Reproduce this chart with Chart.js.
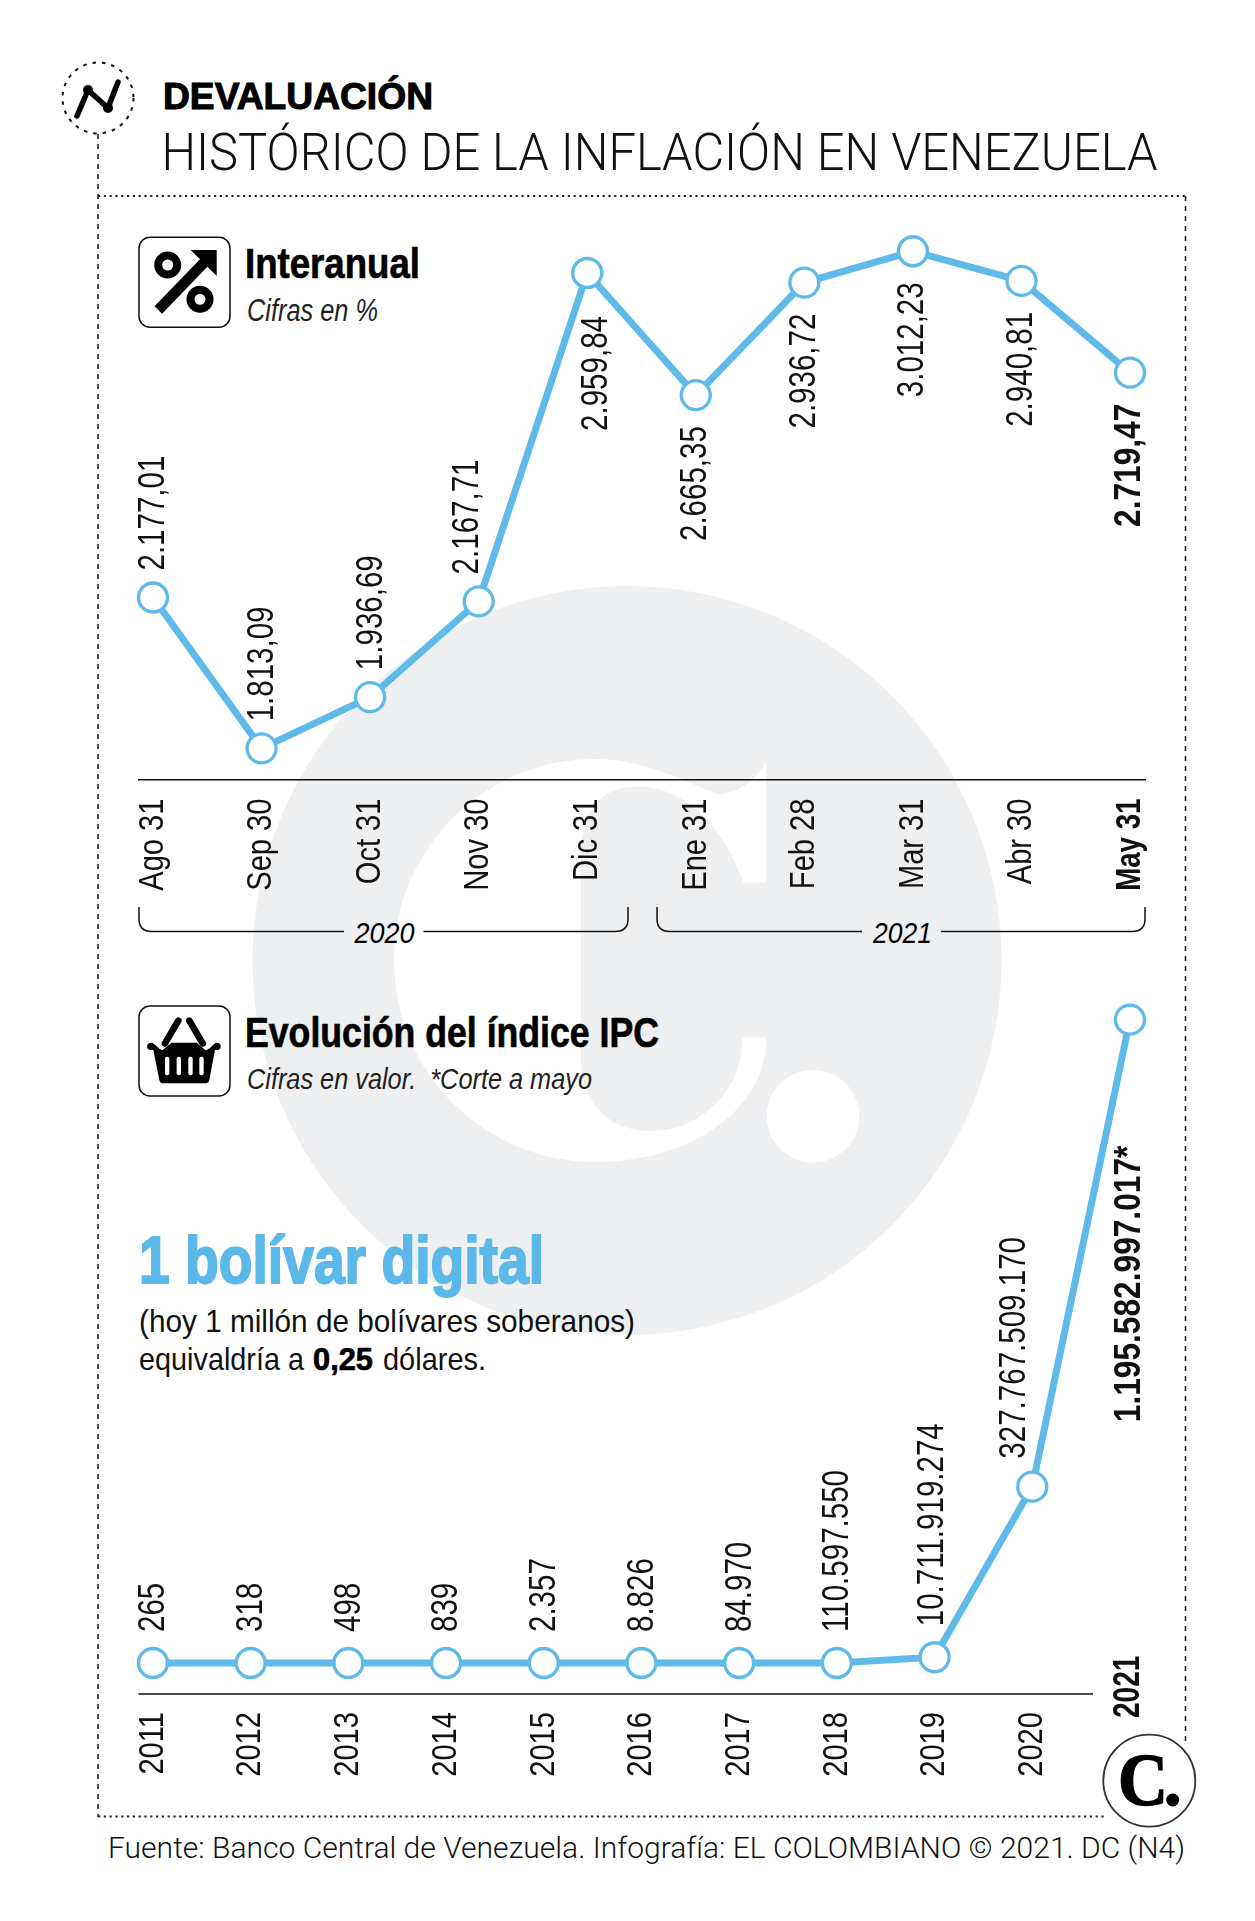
<!DOCTYPE html>
<html lang="es"><head><meta charset="utf-8">
<script src="https://cdn.jsdelivr.net/npm/chart.js@4"></script>
<style>
html,body{margin:0;padding:0;background:#fff;width:1255px;height:1921px;overflow:hidden}
#art,canvas{position:absolute;left:0}
#art{top:0}
#c1{top:180px}
#c2{top:1000px}
text{white-space:pre}
.n{font-family:"Liberation Sans",sans-serif}
.b{font-weight:700}
.i{font-style:italic}
.l{font-family:Roboto,"Liberation Sans",sans-serif;font-weight:300}
</style></head><body>
<svg id="art" width="1255" height="1921" viewBox="0 0 1255 1921">
  <!-- watermark -->
  <circle cx="627" cy="960.5" r="374.5" fill="#eeeff1"/>
  <g transform="translate(240,580) scale(.4974)" fill="#fff">
    <path d="M1058 365L1058 608L1012 608C970 490 890 415 800 415C735 415 685 450 685 560L685 960C685 1060 750 1108 825 1108C925 1108 1010 1030 1010 920L1058 920C1058 1070 900 1170 715 1170C490 1170 310 990 310 765C310 540 490 360 715 360C810 360 880 400 960 430C1000 432 1040 400 1058 365Z"/>
    <circle cx="1152" cy="1078" r="93"/>
  </g>
  <!-- frame -->
  <g fill="none" stroke="#222">
    <path d="M98 134V1817M1185.5 196V1745" stroke-width="1.6" stroke-dasharray="5 5"/>
    <path d="M98 196H1185M98 1816.5H1105" stroke-width="2.2" stroke-dasharray="2.2 3.6"/>
  </g>
  <!-- top-left badge -->
  <circle cx="98" cy="98" r="35.5" fill="#fff" stroke="#111" stroke-width="2" stroke-dasharray="3.5 6"/>
  <path d="M77 116L88 90L108 108L118 82" fill="none" stroke="#000" stroke-width="5.5" stroke-linecap="round" stroke-linejoin="round"/>
  <circle cx="88" cy="90" r="5"/><circle cx="108" cy="108" r="5"/>
  <text x="163" y="109" class="b" font-family="Liberation Sans" font-size="36" textLength="270" lengthAdjust="spacingAndGlyphs" stroke="#000" stroke-width="1">DEVALUACIÓN</text>
  <text x="161.5" y="170" class="l" font-size="52" textLength="996" lengthAdjust="spacingAndGlyphs" fill="#111">HISTÓRICO DE LA INFLACIÓN EN VENEZUELA</text>

  <!-- percent icon -->
  <rect x="139" y="237.3" width="91" height="90" rx="11" fill="#fff" stroke="#111" stroke-width="1.5"/>
  <circle cx="167.7" cy="265" r="9.5" fill="none" stroke="#000" stroke-width="8"/>
  <circle cx="200" cy="299.3" r="9.5" fill="none" stroke="#000" stroke-width="8"/>
  <path d="M158.3 310L205 261.7" stroke="#000" stroke-width="10.5"/>
  <path d="M190.7 250H216.7V276Z"/>
  <text x="245" y="278" class="n b" font-size="43" textLength="175" lengthAdjust="spacingAndGlyphs" stroke="#000" stroke-width=".7">Interanual</text>
  <text x="247" y="321" class="n i" font-size="31" textLength="131" lengthAdjust="spacingAndGlyphs" fill="#222">Cifras en %</text>

  <!-- year brackets -->
  <g fill="none" stroke="#111" stroke-width="1.5">
    <path d="M139 907V919Q139 931.5 152 931.5H344M423.5 931.5H615Q628 931.5 628 919V907"/>
    <path d="M657 907V919Q657 931.5 670 931.5H862M941 931.5H1132Q1145 931.5 1145 919V907"/>
  </g>
  <text x="354.5" y="942.5" class="n i" font-size="30" textLength="60" lengthAdjust="spacingAndGlyphs">2020</text>
  <text x="873" y="942.5" class="n i" font-size="30" textLength="59" lengthAdjust="spacingAndGlyphs">2021</text>

  <!-- basket icon -->
  <rect x="139" y="1006" width="91" height="90" rx="11" fill="#fff" stroke="#111" stroke-width="1.5"/>
  <g transform="translate(130,1000) scale(.3333)">
    <path d="M145 62L105 130M178 62L218 130" stroke="#000" stroke-width="20" stroke-linecap="round" fill="none"/>
    <path d="M125 128H200L226 150C240 150 250 128 262 128C276 128 276 150 262 150L255 150L238 240Q236 250 225 250H100Q90 250 88 240L70 150L62 150C48 150 48 128 62 128C76 128 86 150 98 150Z"/>
    <g fill="#fff"><rect x="105" y="170" width="13" height="56" rx="6"/><rect x="140" y="170" width="13" height="56" rx="6"/><rect x="175" y="170" width="13" height="56" rx="6"/><rect x="208" y="170" width="13" height="56" rx="6"/></g>
  </g>
  <text x="245" y="1047" class="n b" font-size="42" textLength="414" lengthAdjust="spacingAndGlyphs" stroke="#000" stroke-width=".7">Evolución del índice IPC</text>
  <text x="247" y="1089" class="n i" font-size="30" textLength="345" lengthAdjust="spacingAndGlyphs" fill="#222">Cifras en valor.  *Corte a mayo</text>

  <!-- note -->
  <text x="139" y="1283" class="n b" font-size="66" textLength="405" lengthAdjust="spacingAndGlyphs" fill="#5cb8e8" stroke="#5cb8e8" stroke-width="2">1 bolívar digital</text>
  <text x="139" y="1332" class="n" font-size="32" textLength="496" lengthAdjust="spacingAndGlyphs" fill="#111">(hoy 1 millón de bolívares soberanos)</text>
  <text x="139" y="1370" class="n" font-size="32" textLength="165" lengthAdjust="spacingAndGlyphs" fill="#111">equivaldría a</text>
  <text x="313" y="1370" class="n b" font-size="32" textLength="60" lengthAdjust="spacingAndGlyphs" stroke="#000" stroke-width=".7">0,25</text>
  <text x="383" y="1370" class="n" font-size="32" textLength="103" lengthAdjust="spacingAndGlyphs" fill="#111">dólares.</text>

  <!-- brand seal -->
  <circle cx="1149.3" cy="1780.7" r="46" fill="#fff" stroke="#333" stroke-width="1.8"/>
  <text x="1118" y="1804.5" font-family="Liberation Serif" font-weight="700" font-size="74" textLength="50" lengthAdjust="spacingAndGlyphs" stroke="#000" stroke-width="1.5">C</text>
  <circle cx="1172.7" cy="1800" r="6.5"/>

  <text x="108" y="1858" class="l" font-size="29" textLength="1077" lengthAdjust="spacingAndGlyphs" fill="#111">Fuente: Banco Central de Venezuela. Infografía: EL COLOMBIANO © 2021. DC (N4)</text>
</svg>
<canvas id="c1" width="1255" height="720"></canvas>
<canvas id="c2" width="1255" height="820"></canvas>
<script>
const monthLabels = ["Ago 31","Sep 30","Oct 31","Nov 30","Dic 31","Ene 31","Feb 28","Mar 31","Abr 30","May 31"];
const annualRate  = [2177.01,1813.09,1936.69,2167.71,2959.84,2665.35,2936.72,3012.23,2940.81,2719.47];
const yearLabels  = ["2011","2012","2013","2014","2015","2016","2017","2018","2019","2020","2021"];
const ipcIndex    = [265,318,498,839,2357,8826,84970,110597550,10711919274,327767509170,1195582997017];

const BLUE = "#5fbae9", INK = "#111";
const FONT = '"Liberation Sans",sans-serif';
const rateText = v => new Intl.NumberFormat("de-DE",{minimumFractionDigits:2,maximumFractionDigits:2}).format(v);
const ipcText  = (v,i) => new Intl.NumberFormat("de-DE",{maximumFractionDigits:0}).format(v) + (i===ipcIndex.length-1?"*":"");

// The reference uses a condensed face that is not installed: condense along the text's own baseline.
function condensedContext(id){
  const ctx=document.getElementById(id).getContext("2d");
  const raw=CanvasRenderingContext2D.prototype.fillText;
  ctx.fillText=function(t,x,y,w){
    const squeeze=(/700|bold/.test(this.font)&&String(t).length>6)?0.88:(/700|bold/.test(this.font)?0.78:0.82);
    this.save();this.translate(x,y);this.scale(squeeze,1);
    raw.call(this,t,0,0,w);
    this.restore();
  };
  return ctx;
}
function rotatedText(ctx,text,x,y,align,bold){
  ctx.save();
  ctx.translate(x,y);ctx.rotate(-Math.PI/2);
  ctx.font=(bold?"700 ":"")+"36px "+FONT;
  ctx.fillStyle=INK;ctx.textAlign=align;ctx.textBaseline="middle";
  ctx.fillText(text,0,0);
  ctx.restore();
}
const labelPlugin = (fmt,place) => ({
  id:"valueLabels",
  afterDatasetsDraw(chart){
    const ctx=chart.ctx, pts=chart.getDatasetMeta(0).data, vals=chart.data.datasets[0].data;
    pts.forEach((p,i)=>{
      const o=place(i);
      rotatedText(ctx,fmt(vals[i].y,i),p.x+o.dx,o.below?p.y+o.gap:p.y-o.gap,o.below?"right":"left",o.bold);
    });
  }
});
function xAxis(labels,tickPad,fitH,min,max,showBorder,tickText,boldIdx){
  return {
    type:"linear",min,max,
    afterBuildTicks(s){s.ticks=labels.map((_,i)=>({value:i}));},
    afterFit(s){s.height=fitH;s.paddingLeft=0;s.paddingRight=0;},
    grid:{display:false,drawTicks:false},
    border:{display:showBorder,color:INK,width:1.6},
    ticks:{
      autoSkip:false,minRotation:90,maxRotation:90,padding:tickPad,color:INK,
      font:c=>({family:FONT,size:35.5,weight:c.index===boldIdx?"700":"400"}),
      callback:tickText
    }
  };
}
function baseOptions(pad,x,ymin,ymax){
  return {
    responsive:false,animation:false,devicePixelRatio:1,
    layout:{padding:pad,autoPadding:false},
    plugins:{legend:{display:false},tooltip:{enabled:false}},
    scales:{x,y:{display:false,min:ymin,max:ymax}}
  };
}
function lineDataset(values){
  return {
    data:values.map((v,i)=>({x:i,y:v})),
    borderColor:BLUE,borderWidth:7,tension:0,clip:false,
    pointRadius:14.5,pointBorderWidth:3.4,pointBackgroundColor:"#fff",pointBorderColor:BLUE
  };
}

new Chart(condensedContext("c1"),{
  type:"line",
  data:{datasets:[lineDataset(annualRate)]},
  options:baseOptions({left:138.5,right:110,top:20,bottom:0},
    xAxis(monthLabels,19,720-599.5,-0.1336,9.138,true,v=>monthLabels[v],9),1738,3136),
  plugins:[labelPlugin(rateText,i=>{
    if(i===3) return {dx:-10.5,gap:27};
    if(i<3) return {dx:1.5,gap:27};
    if(i===4) return {dx:10,gap:43,below:true};
    return {dx:0.5,gap:31,below:true,bold:i===9};
  })]
});

new Chart(condensedContext("c2"),{
  type:"line",
  data:{datasets:[lineDataset(ipcIndex)]},
  options:baseOptions({left:138.5,right:110,top:5,bottom:0},
    xAxis(yearLabels,18,820-694,-0.148,10.154,false,(v)=>v===10?"":yearLabels[v],-1),-5.76e10,1.2228e12),
  plugins:[labelPlugin(ipcText,i=>{
    if(i===10) return {dx:0,gap:126,below:true,bold:true};
    if(i===9) return {dx:-17.5,gap:28};
    if(i===8) return {dx:-1,gap:31};
    return {dx:1.5,gap:31};
  }),{
    id:"axisAndLast",
    afterDatasetsDraw(chart){
      const {ctx,chartArea:a,scales:{x}}=chart;
      ctx.save();ctx.strokeStyle=INK;ctx.lineWidth=1.6;
      ctx.beginPath();ctx.moveTo(a.left,a.bottom);ctx.lineTo(1093,a.bottom);ctx.stroke();ctx.restore();
      rotatedText(ctx,yearLabels[10],x.getPixelForValue(10)-0.5,a.bottom+24,"left",true);
    }
  }]
});
</script>
</body></html>
